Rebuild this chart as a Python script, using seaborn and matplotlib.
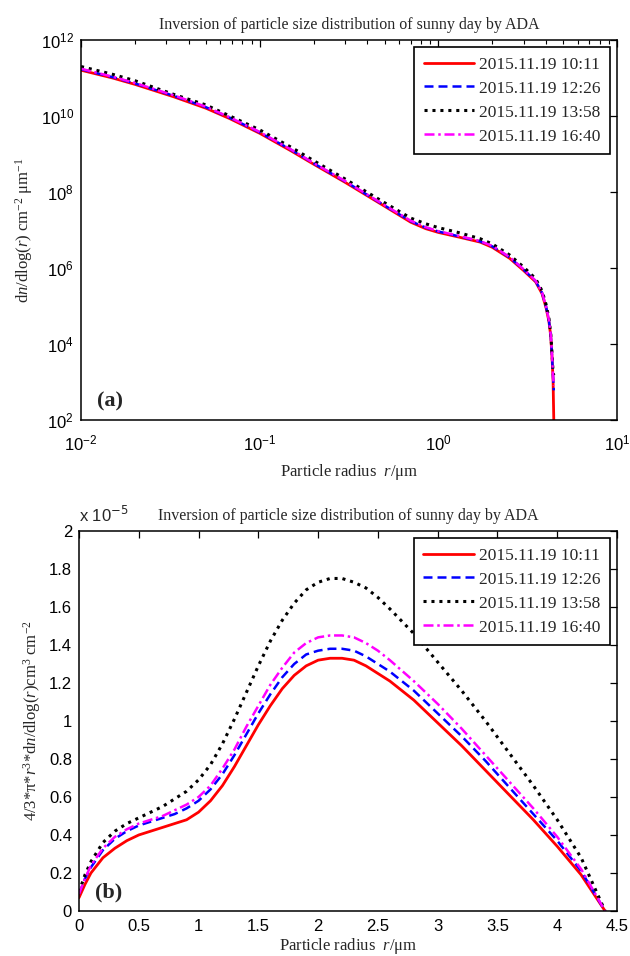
import numpy as np
import pandas as pd
import seaborn as sns
import matplotlib
matplotlib.use("Agg")
import matplotlib.pyplot as plt
from matplotlib.ticker import LogLocator, FixedLocator, FuncFormatter, NullFormatter, MultipleLocator

# ---------------- data ----------------
labels = ["2015.11.19 10:11", "2015.11.19 12:26", "2015.11.19 13:58", "2015.11.19 16:40"]
colors = ["#ff0000", "#0000ff", "#000000", "#ff00ff"]
styles = ["-", (0, (3.6, 2.0)), (0, (1, 1.6)), (0, (4, 1.5, 1, 1.5))]
widths = [2.0, 1.8, 2.2, 1.8]

# panel (a): particle radius (um) and dn/dlog(r)
r_top = [0.01, 0.015, 0.02, 0.033, 0.05, 0.068, 0.1, 0.15, 0.2, 0.3, 0.5, 0.7, 0.85, 1.0,
         1.3, 1.71, 2.0, 2.5, 3.0, 3.5, 3.8, 4.0, 4.15, 4.25, 4.32, 4.38, 4.42]
dn_1011 = [1.6e11, 1.0e11, 6.8e10, 3.2e10, 1.6e10, 8.5e9, 3.5e9, 1.2e9, 5.4e8, 1.8e8, 4.2e7, 1.6e7, 1.08e7, 8.6e6,
           6.5e6, 4.8e6, 3.5e6, 1.8e6, 8.5e5, 4.3e5, 2.1e5, 9.0e4, 4.0e4, 1.6e4, 4.5e3, 1.1e3, 1.0e2]
dn_1226 = [1.7e11, 1.05e11, 7.2e10, 3.4e10, 1.7e10, 9.0e9, 3.7e9, 1.28e9, 5.7e8, 1.9e8, 4.4e7, 1.7e7, 1.15e7, 9.1e6,
           6.8e6, 5.0e6, 3.7e6, 1.9e6, 9.0e5, 4.5e5, 2.2e5, 9.5e4, 4.2e4, 1.7e4, 5.0e3, 1.3e3, 6.0e2]
dn_1358 = [2.0e11, 1.25e11, 8.5e10, 3.7e10, 1.95e10, 1.0e10, 4.3e9, 1.5e9, 6.7e8, 2.2e8, 5.2e7, 2.05e7, 1.45e7, 1.15e7,
           8.5e6, 5.9e6, 4.3e6, 2.2e6, 1.05e6, 5.2e5, 2.5e5, 1.1e5, 4.8e4, 1.9e4, 6.0e3, 1.8e3, 1.5e3]
dn_1640 = [1.75e11, 1.08e11, 7.4e10, 3.5e10, 1.75e10, 9.2e9, 3.8e9, 1.3e9, 5.8e8, 1.95e8, 4.5e7, 1.75e7, 1.18e7, 9.3e6,
           7.0e6, 5.1e6, 3.8e6, 1.95e6, 9.2e5, 4.6e5, 2.25e5, 9.7e4, 4.3e4, 1.75e4, 5.2e3, 1.4e3, 8.0e2]

# panel (b): particle radius (um) and volume distribution (units of 1e-5)
r_bot = [0.0, 0.05, 0.1, 0.2, 0.3, 0.4, 0.5, 0.6, 0.7, 0.8, 0.9, 1.0, 1.1, 1.2, 1.3, 1.4, 1.5, 1.6,
         1.7, 1.8, 1.9, 2.0, 2.1, 2.2, 2.3, 2.4, 2.5, 2.6, 2.8, 3.0, 3.2, 3.4, 3.6, 3.8, 4.0, 4.2, 4.4]
v_1011 = [0.07, 0.14, 0.20, 0.28, 0.33, 0.37, 0.40, 0.42, 0.44, 0.46, 0.48, 0.52, 0.58, 0.66, 0.76, 0.87, 0.98, 1.08,
          1.17, 1.24, 1.29, 1.32, 1.33, 1.33, 1.32, 1.29, 1.25, 1.21, 1.11, 0.99, 0.87, 0.74, 0.61, 0.48, 0.34, 0.19, 0.0]
v_1226 = [0.09, 0.17, 0.23, 0.32, 0.38, 0.42, 0.45, 0.47, 0.49, 0.51, 0.54, 0.58, 0.64, 0.72, 0.82, 0.93, 1.04, 1.14,
          1.23, 1.30, 1.35, 1.37, 1.38, 1.38, 1.37, 1.34, 1.30, 1.26, 1.16, 1.04, 0.92, 0.79, 0.65, 0.51, 0.37, 0.21, 0.0]
v_1358 = [0.10, 0.19, 0.26, 0.36, 0.42, 0.46, 0.49, 0.52, 0.55, 0.59, 0.63, 0.69, 0.77, 0.88, 1.01, 1.15, 1.29, 1.42,
          1.53, 1.62, 1.69, 1.73, 1.75, 1.75, 1.73, 1.70, 1.65, 1.59, 1.46, 1.31, 1.16, 1.00, 0.83, 0.66, 0.48, 0.28, 0.0]
v_1640 = [0.09, 0.17, 0.24, 0.33, 0.39, 0.43, 0.46, 0.48, 0.50, 0.53, 0.56, 0.60, 0.66, 0.75, 0.85, 0.97, 1.08, 1.19,
          1.28, 1.36, 1.41, 1.44, 1.45, 1.45, 1.44, 1.41, 1.37, 1.32, 1.21, 1.09, 0.96, 0.82, 0.68, 0.54, 0.39, 0.22, 0.0]

top_series = [dn_1011, dn_1226, dn_1358, dn_1640]
bot_series = [v_1011, v_1226, v_1358, v_1640]

title = "Inversion of particle size distribution of sunny day by ADA"

# ---------------- style ----------------
sns.set_theme(style="white")
plt.rcParams["font.family"] = ["Liberation Sans", "DejaVu Sans"]
plt.rcParams["mathtext.fontset"] = "custom"
plt.rcParams["mathtext.rm"] = "Liberation Serif"
plt.rcParams["mathtext.it"] = "Liberation Serif:italic"
plt.rcParams["mathtext.bf"] = "Liberation Serif:bold"
SERIF = ["Liberation Serif", "DejaVu Serif"]
SANS = ["Liberation Sans", "DejaVu Sans"]

fig = plt.figure(figsize=(6.30, 9.56), dpi=100)
ax1 = fig.add_axes([0.1286, 0.5607, 0.851, 0.3975])
ax2 = fig.add_axes([0.1254, 0.0471, 0.8540, 0.3975])

def frame(ax, xpad):
    for s in ax.spines.values():
        s.set_visible(True)
        s.set_color("black")
        s.set_linewidth(1.1)
    ax.tick_params(which="both", direction="in", top=True, right=True, colors="black",
                   labelsize=12, labelcolor="black")
    ax.tick_params(which="major", length=5, width=0.9)
    ax.tick_params(which="minor", length=3, width=0.8)
    ax.tick_params(axis="x", which="major", pad=xpad)
    ax.tick_params(axis="y", which="major", pad=5)
    for t in ax.get_xticklabels() + ax.get_yticklabels():
        t.set_family(SANS)

# ----- panel (a) -----
for vals, lab, c, ls, lw in zip(top_series, labels, colors, styles, widths):
    df = pd.DataFrame({"r": r_top, "v": vals})
    sns.lineplot(data=df, x="r", y="v", ax=ax1, color=c, linestyle=ls, linewidth=lw, label=lab)
ax1.set_xscale("log")
ax1.set_yscale("log")
ax1.set_xlim(1e-2, 1e1)
ax1.set_ylim(1e2, 1e12)
ax1.yaxis.set_major_locator(FixedLocator([1e2, 1e4, 1e6, 1e8, 1e10, 1e12]))
ax1.yaxis.set_minor_locator(FixedLocator([]))
ax1.xaxis.set_major_locator(LogLocator(base=10, numticks=10))
ax1.xaxis.set_minor_locator(LogLocator(base=10, subs=np.arange(2, 10), numticks=20))
ax1.xaxis.set_minor_formatter(NullFormatter())
frame(ax1, 10)
ax1.set_xlabel(r"Particle radius  $\it{r}$/μm", family=SERIF, fontsize=12, labelpad=6)
ax1.set_ylabel(r"d$\it{n}$/dlog($\it{r}$) cm$^{-2}$ μm$^{-1}$", family=SERIF, fontsize=12, labelpad=4)
ax1.set_title(title, family=SERIF, fontsize=11.5, pad=8)
ax1.text(0.03, 0.035, "(a)", transform=ax1.transAxes, family=SERIF, fontsize=16, fontweight="bold")

# ----- panel (b) -----
for vals, lab, c, ls, lw in zip(bot_series, labels, colors, styles, widths):
    df = pd.DataFrame({"r": r_bot, "v": np.array(vals) * 1e-5})
    sns.lineplot(data=df, x="r", y="v", ax=ax2, color=c, linestyle=ls, linewidth=lw, label=lab)
ax2.set_xlim(0, 4.5)
ax2.set_ylim(0, 2e-5)
ax2.xaxis.set_major_locator(MultipleLocator(0.5))
ax2.yaxis.set_major_locator(MultipleLocator(0.2e-5))
ax2.xaxis.set_major_formatter(FuncFormatter(lambda v, p: f"{round(v, 2):g}"))
ax2.yaxis.set_major_formatter(FuncFormatter(lambda v, p: f"{round(v * 1e5, 2):g}"))
frame(ax2, 6)
ax2.set_xlabel(r"Particle radius  $\it{r}$/μm", family=SERIF, fontsize=12, labelpad=1)
ax2.set_ylabel(r"4/3*π*$\it{r}$$^{3}$*d$\it{n}$/dlog($\it{r}$)cm$^{3}$ cm$^{-2}$", family=SERIF, fontsize=12, labelpad=4)
ax2.set_title(title, family=SERIF, fontsize=11.5, pad=8)
ax2.text(0.0, 1.015, r"x 10$^{-5}$", transform=ax2.transAxes, family=SANS, fontsize=12, ha="left", va="bottom",
         math_fontfamily="dejavusans")
ax2.text(0.03, 0.035, "(b)", transform=ax2.transAxes, family=SERIF, fontsize=16, fontweight="bold")

for ax in (ax1, ax2):
    leg = ax.legend(loc="upper right", prop={"family": SERIF, "size": 12.5}, frameon=True, fancybox=False,
                    edgecolor="black", handlelength=2.9, handletextpad=0.3, labelspacing=0.45,
                    borderpad=0.55, borderaxespad=0.4, framealpha=1)
    leg.get_frame().set_linewidth(1.2)

fig.savefig("out.png", dpi=100)
